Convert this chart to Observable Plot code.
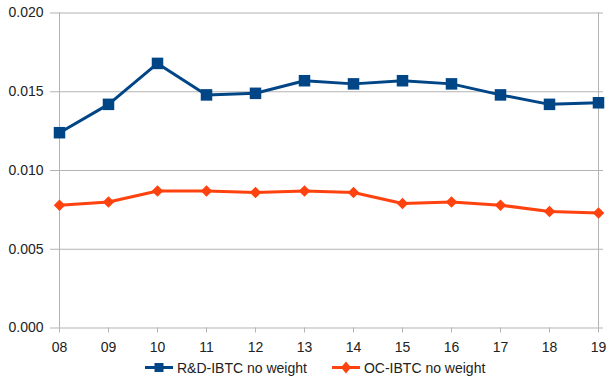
<!DOCTYPE html>
<html>
<head>
<meta charset="utf-8">
<script src="https://cdn.jsdelivr.net/npm/d3@7"></script>
<script src="https://cdn.jsdelivr.net/npm/@observablehq/plot@0.6"></script>
<style>
  html, body { margin: 0; padding: 0; background: #fff; }
  body { width: 610px; height: 379px; overflow: hidden; font-family: "Liberation Sans", Arial, sans-serif; }
  #legend { display: flex; align-items: center; height: 23px; padding-left: 145px; font-size: 14px; color: #222; }
  #legend .item { display: flex; align-items: center; margin-right: 25px; }
  #legend svg { margin-right: 4px; }
</style>
</head>
<body>
<div id="chart"></div>
<div id="legend"></div>
<script>
// Year labels (2008–2019)
const years = ["08", "09", "10", "11", "12", "13", "14", "15", "16", "17", "18", "19"];
// R&D-IBTC, unweighted
const rdIbtc = [0.0124, 0.0142, 0.0168, 0.0148, 0.0149, 0.0157, 0.0155, 0.0157, 0.0155, 0.0148, 0.0142, 0.0143];
// OC-IBTC, unweighted
const ocIbtc = [0.0078, 0.0080, 0.0087, 0.0087, 0.0086, 0.0087, 0.0086, 0.0079, 0.0080, 0.0078, 0.0074, 0.0073];
const yTicks = [0, 0.005, 0.010, 0.015, 0.020];

const seriesNames = ["R&D-IBTC no weight", "OC-IBTC no weight"];
const colors = ["#004586", "#ff420e"];

const rd = years.map((y, i) => ({year: y, value: rdIbtc[i]}));
const oc = years.map((y, i) => ({year: y, value: ocIbtc[i]}));

const grid = "#b3b3b3";

const chart = Plot.plot({
  width: 610,
  height: 356,
  marginLeft: 54,
  marginRight: 7,
  marginTop: 12.5,
  marginBottom: 28.5,
  style: {fontFamily: "Liberation Sans, Arial, sans-serif", fontSize: "14px", background: "#fff"},
  x: {type: "point", domain: years, padding: 0},
  y: {domain: [0, 0.02]},
  marks: [
    Plot.ruleY(yTicks, {stroke: grid, strokeWidth: 1}),
    Plot.ruleX([years[0], years[years.length - 1]], {stroke: grid, strokeWidth: 1}),
    Plot.axisY(yTicks, {tickSize: 4, tickPadding: 7, stroke: grid, fill: "#222", tickFormat: d3.format(".3f"), label: null}),
    Plot.axisX({tickSize: 5, tickPadding: 9, stroke: grid, fill: "#222", label: null}),
    Plot.line(rd, {x: "year", y: "value", stroke: colors[0], strokeWidth: 3}),
    Plot.dot(rd, {x: "year", y: "value", symbol: "square", r: 6.5, fill: colors[0]}),
    Plot.line(oc, {x: "year", y: "value", stroke: colors[1], strokeWidth: 3}),
    Plot.dot(oc, {x: "year", y: "value", symbol: "diamond2", r: 5.2, fill: colors[1]})
  ]
});
document.getElementById("chart").appendChild(chart);

// Legend: line swatch with the series marker
const legend = document.getElementById("legend");
const markers = [
  '<rect x="9.5" y="3" width="9" height="9" fill="COLOR"/>',
  '<path d="M14 1.5 L19 7.5 L14 13.5 L9 7.5 Z" fill="COLOR"/>'
];
seriesNames.forEach((name, i) => {
  const item = document.createElement("div");
  item.className = "item";
  item.innerHTML =
    '<svg width="28" height="15"><line x1="0" x2="28" y1="7.5" y2="7.5" stroke="' + colors[i] + '" stroke-width="3"/>' +
    markers[i].replace("COLOR", colors[i]) + '</svg><span>' + name.replace("&", "&amp;") + '</span>';
  legend.appendChild(item);
});
</script>
</body>
</html>
